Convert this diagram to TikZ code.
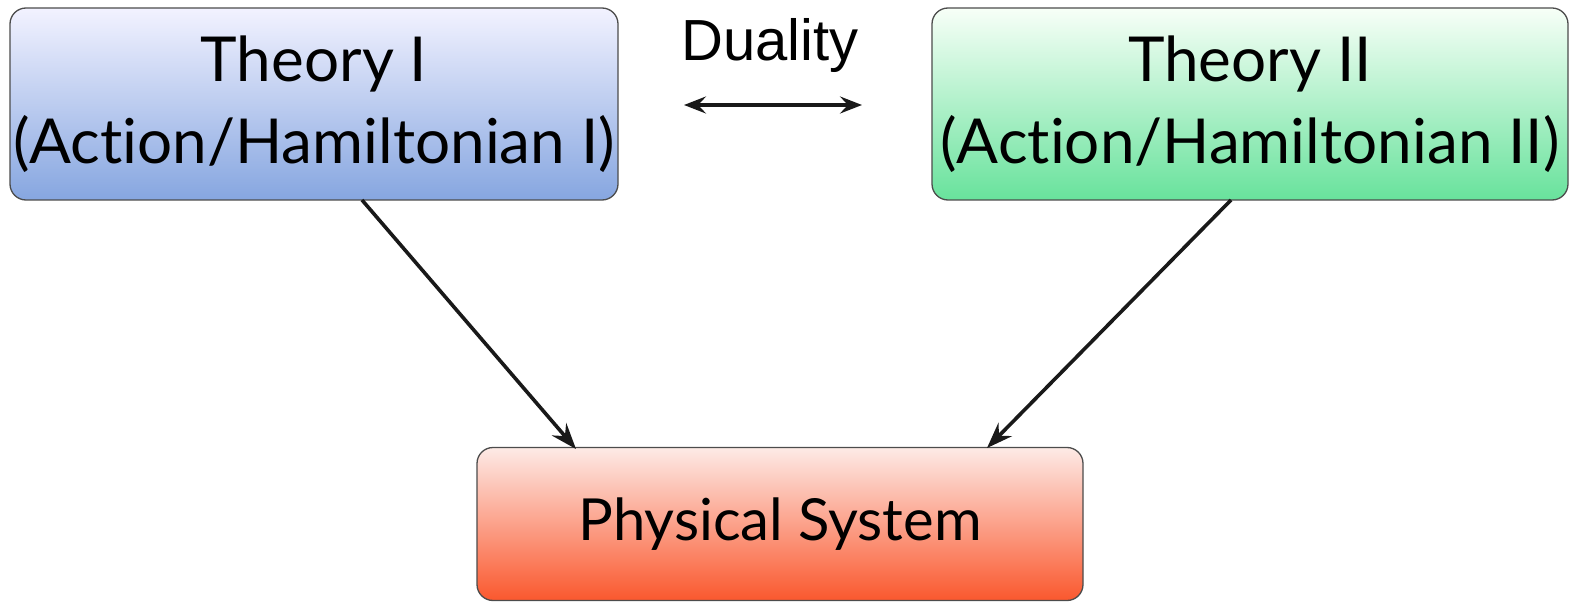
\documentclass[tikz,border=0pt]{standalone}
\usepackage{fontspec}
\setmainfont[Ligatures=NoCommon]{Lato}
\newfontfamily\dualfont{Liberation Sans}
\usetikzlibrary{arrows.meta,positioning}
\begin{document}
\begin{tikzpicture}[x=1pt,y=-1pt,
  thbox/.style={draw=black!70,line width=1.3pt,rounded corners=16pt,inner sep=0pt,align=center,
     font=\fontsize{62}{80}\selectfont},
  conn/.style={-{Stealth[length=26pt,width=19pt,inset=9pt]},line width=3.6pt,black!90},
  dconn/.style={{Stealth[length=22pt,width=17pt,inset=8pt]}-{Stealth[length=22pt,width=17pt,inset=8pt]},line width=3.6pt,black!90}]
\useasboundingbox (0,0) rectangle (1574,604);
\node[thbox,minimum width=608pt,minimum height=192pt,top color=blue!5!white,bottom color={rgb,255:red,134;green,166;blue,224}] (t1) at (314,104) {\raisebox{-10pt}{\shortstack{Theory I\\[20pt](Action/Hamiltonian I)}}};
\node[thbox,minimum width=636pt,minimum height=192pt,top color=green!3!white,bottom color={rgb,255:red,104;green,226;blue,156}] (t2) at (1250,104) {\raisebox{-10pt}{\shortstack{Theory II\\[20pt](Action/Hamiltonian II)}}};
\node[thbox,minimum width=606pt,minimum height=153pt,top color={rgb,255:red,253;green,234;blue,230},bottom color={rgb,255:red,250;green,88;blue,46},font=\fontsize{58}{70}\selectfont] (ps) at (780,524) {\raisebox{-9pt}{Physical System}};
\node[font=\dualfont\fontsize{58}{66}\selectfont] (dl) at (770,46) {Duality};
\coordinate (dA) at (684,105);
\coordinate (dB) at (862,105);
\draw[dconn] (dA) -- (dB);
\coordinate (a1) at (362,200);
\coordinate (a2) at (576,449);
\coordinate (b1) at (1231,200);
\coordinate (b2) at (987,448);
\draw[conn] (a1) -- (a2);
\draw[conn] (b1) -- (b2);
\end{tikzpicture}
\end{document}
